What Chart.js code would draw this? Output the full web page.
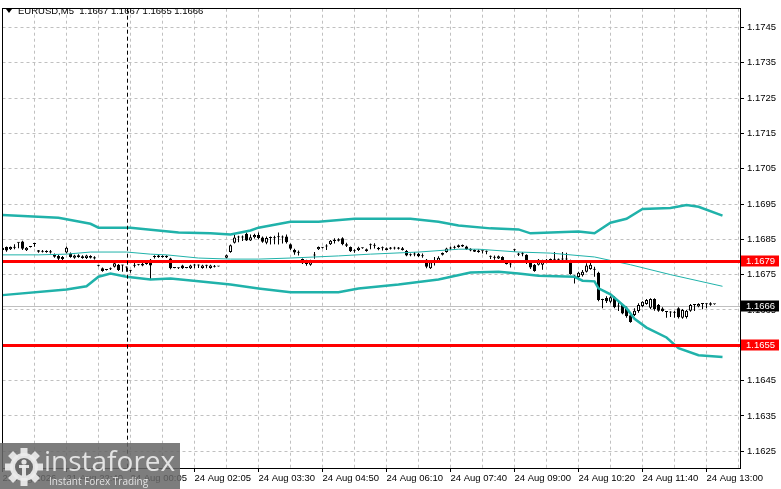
<!DOCTYPE html>
<html>
<head>
<meta charset="utf-8">
<title>EURUSD M5</title>
<script src="https://cdn.jsdelivr.net/npm/chart.js@4.4.1/dist/chart.umd.min.js"></script>
<style>
  html, body { margin: 0; padding: 0; background: #ffffff; }
  #wrap { width: 781px; height: 489px; position: relative; }
</style>
</head>
<body>
<div id="wrap"><canvas id="eurusd"></canvas></div>
<script>
const symbolTitle = 'EURUSD,M5  1.1667 1.1667 1.1665 1.1666';

// 5-minute candles, left to right
const opens = [
  1.16826,1.16828,1.16822,1.16826,1.16840,1.16844,1.16819,1.16828,1.16838,1.16819,
  1.16815,1.16814,1.16816,1.16806,1.16803,1.16800,1.16813,1.16810,1.16798,1.16805,
  1.16802,1.16797,1.16803,1.16799,1.16776,1.16768,1.16763,1.16765,1.16772,1.16778,
  1.16777,1.16770,1.16762,1.16775,1.16778,1.16776,1.16780,1.16792,1.16800,1.16804,
  1.16800,1.16803,1.16796,1.16770,1.16768,1.16776,1.16769,1.16768,1.16776,1.16777,
  1.16769,1.16776,1.16769,1.16775,1.16773,1.16785,1.16798,1.16814,1.16840,1.16856,
  1.16855,1.16866,1.16847,1.16856,1.16862,1.16855,1.16840,1.16854,1.16854,1.16856,
  1.16856,1.16858,1.16836,1.16820,1.16813,1.16794,1.16790,1.16778,1.16804,1.16822,
  1.16826,1.16831,1.16836,1.16845,1.16846,1.16853,1.16836,1.16828,1.16816,1.16820,
  1.16825,1.16817,1.16834,1.16832,1.16822,1.16827,1.16820,1.16823,1.16824,1.16823,
  1.16820,1.16817,1.16805,1.16808,1.16809,1.16802,1.16792,1.16768,1.16784,1.16786,
  1.16806,1.16814,1.16824,1.16826,1.16828,1.16830,1.16830,1.16823,1.16820,1.16818,
  1.16817,1.16816,1.16802,1.16801,1.16796,1.16800,1.16781,1.16779,1.16820,1.16806,
  1.16810,1.16806,1.16784,1.16778,1.16778,1.16778,1.16786,1.16791,1.16792,1.16793,
  1.16794,1.16793,1.16790,1.16746,1.16743,1.16748,1.16758,1.16766,1.16764,1.16755,
  1.16678,1.16684,1.16673,1.16686,1.16660,1.16664,1.16656,1.16635,1.16636,1.16647,
  1.16661,1.16667,1.16656,1.16681,1.16664,1.16654,1.16645,1.16643,1.16644,1.16655,
  1.16628,1.16630,1.16648,1.16664,1.16660,1.16668,1.16666,1.16669,1.16667
];
const highs = [
  1.16833,1.16830,1.16830,1.16836,1.16842,1.16846,1.16828,1.16829,1.16840,1.16820,
  1.16820,1.16819,1.16820,1.16810,1.16806,1.16803,1.16830,1.16813,1.16806,1.16808,
  1.16805,1.16806,1.16805,1.16802,1.16778,1.16770,1.16766,1.16770,1.16784,1.16780,
  1.16778,1.16773,1.16763,1.16783,1.16780,1.16783,1.16782,1.16794,1.16805,1.16806,
  1.16805,1.16805,1.16798,1.16771,1.16770,1.16778,1.16771,1.16778,1.16780,1.16779,
  1.16778,1.16778,1.16778,1.16777,1.16774,1.16787,1.16807,1.16835,1.16864,1.16860,
  1.16861,1.16869,1.16864,1.16866,1.16869,1.16858,1.16858,1.16858,1.16860,1.16869,
  1.16861,1.16864,1.16838,1.16823,1.16818,1.16796,1.16792,1.16792,1.16814,1.16830,
  1.16828,1.16836,1.16848,1.16853,1.16853,1.16856,1.16840,1.16830,1.16822,1.16829,
  1.16827,1.16824,1.16838,1.16839,1.16828,1.16830,1.16827,1.16828,1.16829,1.16828,
  1.16828,1.16820,1.16810,1.16814,1.16812,1.16810,1.16794,1.16787,1.16800,1.16802,
  1.16813,1.16826,1.16830,1.16832,1.16835,1.16835,1.16832,1.16825,1.16822,1.16821,
  1.16818,1.16818,1.16804,1.16804,1.16804,1.16802,1.16782,1.16783,1.16823,1.16812,
  1.16814,1.16808,1.16786,1.16780,1.16794,1.16792,1.16794,1.16796,1.16814,1.16796,
  1.16814,1.16812,1.16792,1.16748,1.16758,1.16763,1.16782,1.16783,1.16772,1.16758,
  1.16682,1.16689,1.16689,1.16689,1.16675,1.16667,1.16660,1.16638,1.16655,1.16669,
  1.16675,1.16681,1.16683,1.16683,1.16667,1.16658,1.16647,1.16646,1.16647,1.16658,
  1.16653,1.16650,1.16667,1.16667,1.16669,1.16669,1.16669,1.16672,1.16667
];
const lows = [
  1.16817,1.16815,1.16820,1.16822,1.16825,1.16820,1.16817,1.16827,1.16829,1.16812,
  1.16813,1.16812,1.16810,1.16798,1.16790,1.16790,1.16810,1.16798,1.16795,1.16798,
  1.16795,1.16794,1.16796,1.16793,1.16773,1.16758,1.16762,1.16763,1.16770,1.16760,
  1.16758,1.16758,1.16755,1.16770,1.16776,1.16774,1.16778,1.16738,1.16796,1.16798,
  1.16798,1.16797,1.16765,1.16768,1.16766,1.16766,1.16768,1.16766,1.16768,1.16769,
  1.16767,1.16768,1.16767,1.16770,1.16772,1.16784,1.16796,1.16812,1.16838,1.16842,
  1.16845,1.16845,1.16845,1.16852,1.16850,1.16840,1.16836,1.16835,1.16836,1.16835,
  1.16838,1.16838,1.16820,1.16806,1.16804,1.16780,1.16775,1.16775,1.16795,1.16820,
  1.16824,1.16820,1.16834,1.16838,1.16844,1.16833,1.16828,1.16814,1.16812,1.16817,
  1.16823,1.16815,1.16822,1.16824,1.16819,1.16818,1.16819,1.16821,1.16821,1.16821,
  1.16818,1.16802,1.16802,1.16802,1.16800,1.16798,1.16768,1.16766,1.16776,1.16784,
  1.16804,1.16812,1.16820,1.16823,1.16826,1.16828,1.16820,1.16816,1.16814,1.16812,
  1.16810,1.16808,1.16794,1.16792,1.16794,1.16786,1.16779,1.16770,1.16815,1.16803,
  1.16802,1.16780,1.16766,1.16758,1.16776,1.16764,1.16782,1.16785,1.16790,1.16788,
  1.16786,1.16788,1.16750,1.16725,1.16740,1.16745,1.16756,1.16764,1.16744,1.16675,
  1.16655,1.16670,1.16669,1.16655,1.16647,1.16638,1.16628,1.16614,1.16633,1.16642,
  1.16658,1.16665,1.16653,1.16648,1.16645,1.16645,1.16628,1.16630,1.16628,1.16626,
  1.16625,1.16626,1.16645,1.16647,1.16658,1.16652,1.16655,1.16662,1.16665
];
const closes = [
  1.16820,1.16818,1.16828,1.16827,1.16841,1.16823,1.16826,1.16828,1.16837,1.16815,
  1.16815,1.16817,1.16813,1.16801,1.16795,1.16794,1.16826,1.16800,1.16804,1.16800,
  1.16797,1.16804,1.16798,1.16796,1.16775,1.16760,1.16764,1.16768,1.16782,1.16763,
  1.16776,1.16771,1.16761,1.16776,1.16778,1.16781,1.16780,1.16776,1.16803,1.16800,
  1.16803,1.16799,1.16768,1.16769,1.16768,1.16768,1.16770,1.16776,1.16777,1.16776,
  1.16776,1.16775,1.16776,1.16772,1.16773,1.16786,1.16805,1.16833,1.16855,1.16855,
  1.16858,1.16847,1.16856,1.16862,1.16854,1.16843,1.16854,1.16855,1.16853,1.16857,
  1.16855,1.16842,1.16823,1.16813,1.16812,1.16782,1.16780,1.16790,1.16805,1.16828,
  1.16826,1.16830,1.16846,1.16846,1.16850,1.16836,1.16832,1.16816,1.16818,1.16826,
  1.16825,1.16822,1.16833,1.16833,1.16826,1.16825,1.16825,1.16827,1.16827,1.16827,
  1.16825,1.16804,1.16808,1.16807,1.16802,1.16803,1.16772,1.16785,1.16786,1.16798,
  1.16811,1.16824,1.16827,1.16829,1.16833,1.16834,1.16822,1.16818,1.16815,1.16814,
  1.16816,1.16815,1.16801,1.16798,1.16802,1.16788,1.16780,1.16780,1.16819,1.16810,
  1.16808,1.16783,1.16770,1.16760,1.16792,1.16790,1.16792,1.16794,1.16793,1.16792,
  1.16793,1.16794,1.16752,1.16745,1.16755,1.16758,1.16776,1.16778,1.16766,1.16678,
  1.16679,1.16675,1.16686,1.16658,1.16662,1.16640,1.16632,1.16616,1.16648,1.16664,
  1.16673,1.16678,1.16681,1.16652,1.16648,1.16647,1.16644,1.16644,1.16642,1.16629,
  1.16650,1.16648,1.16664,1.16665,1.16667,1.16667,1.16667,1.16665,1.16666
];

// Bollinger bands and middle line, read as [bar, price]
const upperBand = [
  [0,1.16919],[14,1.16911],[22,1.16894],[24,1.16883],[32,1.16883],[44,1.16869],
  [52,1.16867],[57,1.16864],[62,1.16875],[64,1.16883],[72,1.16900],[79,1.16900],
  [88,1.16908],[102,1.16908],[109,1.16900],[114,1.16889],[122,1.16881],[129,1.16878],
  [132,1.16867],[144,1.16872],[148,1.16867],[152,1.16897],[156,1.16908],[160,1.16936],
  [167,1.16939],[171,1.16947],[174,1.16942],[180,1.16917]
];
const lowerBand = [
  [0,1.16692],[16,1.16708],[21,1.16717],[24,1.16744],[27,1.16753],[31,1.16744],
  [37,1.16736],[42,1.16739],[49,1.16731],[57,1.16722],[64,1.16711],[72,1.16700],
  [84,1.16700],[89,1.16711],[99,1.16722],[109,1.16736],[117,1.16756],[124,1.16758],
  [129,1.16753],[134,1.16747],[143,1.16744],[145,1.16733],[148,1.16731],[149,1.16711],
  [152,1.16694],[156,1.16655],[158,1.16625],[161,1.16600],[166,1.16572],[169,1.16542],
  [174,1.16522],[180,1.16517]
];
const middleLine = [
  [0,1.16806],[9,1.16806],[16,1.16808],[22,1.16814],[31,1.16814],[37,1.16808],
  [41,1.16806],[49,1.16797],[57,1.16794],[64,1.16794],[72,1.16797],[84,1.16803],
  [92,1.16808],[104,1.16814],[114,1.16822],[119,1.16822],[129,1.16814],[137,1.16811],
  [148,1.16800],[157,1.16778],[167,1.16750],[180,1.16717]
];

const tickBars = [0, 16, 32, 48, 64, 80, 96, 112, 128, 144, 160, 176];
const tickLabels = [
  '21 Aug 2026', '21 Aug 22:40', '24 Aug 00:05', '24 Aug 02:05', '24 Aug 03:30',
  '24 Aug 04:50', '24 Aug 06:10', '24 Aug 07:40', '24 Aug 09:00', '24 Aug 10:20',
  '24 Aug 11:40', '24 Aug 13:00'
];
const priceTicks = [1.1745, 1.1735, 1.1725, 1.1715, 1.1705, 1.1695, 1.1685,
  1.1675, 1.1665, 1.1655, 1.1645, 1.1635, 1.1625];
const levels = [1.1679, 1.1655];
const lastPrice = 1.1666;
const separatorBar = 31.25;

const teal = '#20b2aa';
const gridGrey = '#c0c0c0';
const labelFont = { family: '"Liberation Sans", Arial, sans-serif', size: 9.5 };

const wickData = highs.map((h, i) => ({ x: i, y: [lows[i], h] }));
const bodyData = opens.map((o, i) => ({ x: i, y: [o, closes[i]] }));
const bodyFill = opens.map((o, i) => closes[i] >= o ? '#ffffff' : '#000000');
const toPoints = arr => arr.map(([b, v]) => ({ x: b, y: v }));

function drawGear(ctx, cx, cy, color, hole) {
  ctx.save();
  ctx.fillStyle = color;
  for (let k = 0; k < 8; k++) {
    ctx.save();
    ctx.translate(cx, cy);
    ctx.rotate(k * Math.PI / 4);
    ctx.fillRect(-3.5, -19, 7, 8);
    ctx.restore();
  }
  ctx.beginPath();
  ctx.arc(cx, cy, 14, 0, Math.PI * 2);
  ctx.fill();
  ctx.fillStyle = hole;
  ctx.beginPath();
  ctx.arc(cx, cy, 9, 0, Math.PI * 2);
  ctx.fill();
  ctx.fillStyle = color;
  ctx.beginPath();
  ctx.arc(cx, cy - 5, 2.6, 0, Math.PI * 2);
  ctx.fill();
  ctx.fillRect(cx - 5, cy - 2, 10, 3);
  ctx.fillRect(cx - 2, cy - 2, 4, 11);
  ctx.restore();
}

const overlay = {
  id: 'overlay',
  beforeDraw(chart) {
    const ctx = chart.ctx;
    ctx.save();
    ctx.fillStyle = '#ffffff';
    ctx.fillRect(0, 0, chart.width, chart.height);
    ctx.restore();
  },
  beforeDatasetsDraw(chart) {
    const { ctx, chartArea: a, scales: { y } } = chart;
    const py = Math.round(y.getPixelForValue(lastPrice)) + 0.5;
    ctx.save();
    ctx.strokeStyle = '#c0c0c0';
    ctx.lineWidth = 1;
    ctx.beginPath();
    ctx.moveTo(a.left, py);
    ctx.lineTo(a.right, py);
    ctx.stroke();
    ctx.restore();
  },
  afterDatasetsDraw(chart) {
    const { ctx, chartArea: a, scales: { x, y } } = chart;
    ctx.save();
    ctx.strokeStyle = '#ff0000';
    ctx.lineWidth = 3;
    levels.forEach(v => {
      const py = Math.round(y.getPixelForValue(v)) + 0.5;
      ctx.beginPath();
      ctx.moveTo(a.left, py);
      ctx.lineTo(a.right, py);
      ctx.stroke();
    });
    const sx = Math.floor(x.getPixelForValue(separatorBar)) + 0.5;
    ctx.strokeStyle = '#000000';
    ctx.lineWidth = 1;
    ctx.setLineDash([4, 3]);
    ctx.beginPath();
    ctx.moveTo(sx, a.top);
    ctx.lineTo(sx, a.bottom);
    ctx.stroke();
    ctx.restore();
  },
  afterDraw(chart) {
    const { ctx, chartArea: a, scales: { y } } = chart;
    ctx.save();
    // frame
    ctx.strokeStyle = '#000000';
    ctx.lineWidth = 1;
    ctx.strokeRect(Math.floor(a.left) + 0.5, Math.floor(a.top) + 0.5,
      Math.floor(a.right) - Math.floor(a.left), Math.floor(a.bottom) - Math.floor(a.top));

    // header
    ctx.fillStyle = '#000000';
    ctx.beginPath();
    ctx.moveTo(6, 9);
    ctx.lineTo(12, 9);
    ctx.lineTo(9, 13);
    ctx.closePath();
    ctx.fill();
    ctx.font = '9.5px "Liberation Sans", Arial, sans-serif';
    ctx.textBaseline = 'middle';
    ctx.fillText(symbolTitle, 18, 11.5);

    // price tags on the right axis
    const tag = (v, bg) => {
      const py = y.getPixelForValue(v);
      ctx.fillStyle = bg;
      ctx.fillRect(741, Math.round(py) - 5.5, 38, 11);
      ctx.fillStyle = '#ffffff';
      ctx.fillText(v.toFixed(4), 746, Math.round(py) + 0.5);
    };
    levels.forEach(v => tag(v, '#ff0000'));
    tag(lastPrice, '#000000');

    // watermark
    const box = 'rgba(104,104,104,0.86)';
    ctx.fillStyle = box;
    ctx.fillRect(0, 443, 180, 46);
    drawGear(ctx, 24, 467, 'rgba(236,236,236,0.92)', '#6a6a6a');
    ctx.fillStyle = 'rgba(236,236,236,0.92)';
    ctx.textBaseline = 'alphabetic';
    ctx.font = '28px "Open Sans", sans-serif';
    ctx.fillText('instaforex', 44, 471);
    ctx.font = '10px "Open Sans", sans-serif';
    ctx.fillText('Instant Forex Trading', 49, 485);
    ctx.restore();
  }
};

new Chart(document.getElementById('eurusd'), {
  data: {
    datasets: [
      { type: 'bar', data: wickData, backgroundColor: '#000000', borderWidth: 0,
        barThickness: 1, grouped: false, inflateAmount: 0, order: 2 },
      { type: 'bar', data: bodyData, backgroundColor: bodyFill, borderColor: '#000000',
        borderWidth: 1, borderSkipped: false, barThickness: 3, minBarLength: 1,
        grouped: false, inflateAmount: 0, order: 1 },
      { type: 'line', data: toPoints(upperBand), borderColor: teal, borderWidth: 2.5,
        pointRadius: 0, tension: 0, order: 0 },
      { type: 'line', data: toPoints(lowerBand), borderColor: teal, borderWidth: 2.5,
        pointRadius: 0, tension: 0, order: 0 },
      { type: 'line', data: toPoints(middleLine), borderColor: teal, borderWidth: 1,
        pointRadius: 0, tension: 0, order: 0 }
    ]
  },
  options: {
    responsive: true,
    maintainAspectRatio: false,
    animation: false,
    devicePixelRatio: 1,
    layout: { padding: { left: 2.5, top: 2, right: 0, bottom: 0 } },
    plugins: { legend: { display: false }, tooltip: { enabled: false } },
    scales: {
      x: {
        type: 'linear',
        position: 'bottom',
        offset: false,
        min: 0,
        max: 184.375,
        afterBuildTicks(axis) {
          const t = [];
          for (let b = 0; b <= 184; b += 8) t.push({ value: b });
          axis.ticks = t;
        },
        afterFit(axis) { axis.height = 21; },
        border: { display: false, dash: [3, 3] },
        grid: {
          offset: false,
          color: gridGrey,
          lineWidth: 1,
          tickLength: 4,
          tickColor: c => (c.tick && tickBars.includes(c.tick.value)) ? '#000000' : 'rgba(0,0,0,0)'
        },
        ticks: {
          autoSkip: false,
          maxRotation: 0,
          align: 'start',
          padding: 1,
          color: '#000000',
          font: labelFont,
          callback: v => {
            const k = tickBars.indexOf(v);
            return k >= 0 ? tickLabels[k] : '';
          }
        }
      },
      y: {
        type: 'linear',
        position: 'right',
        min: 1.162025,
        max: 1.17503,
        afterBuildTicks(axis) { axis.ticks = priceTicks.map(v => ({ value: v })); },
        afterFit(axis) { axis.width = 41; },
        border: { display: false, dash: [3, 3] },
        grid: { color: gridGrey, lineWidth: 1, tickLength: 4, tickColor: '#000000' },
        ticks: {
          padding: 3,
          color: '#000000',
          font: labelFont,
          callback: v => v.toFixed(4)
        }
      }
    }
  },
  plugins: [overlay]
});
</script>
</body>
</html>
